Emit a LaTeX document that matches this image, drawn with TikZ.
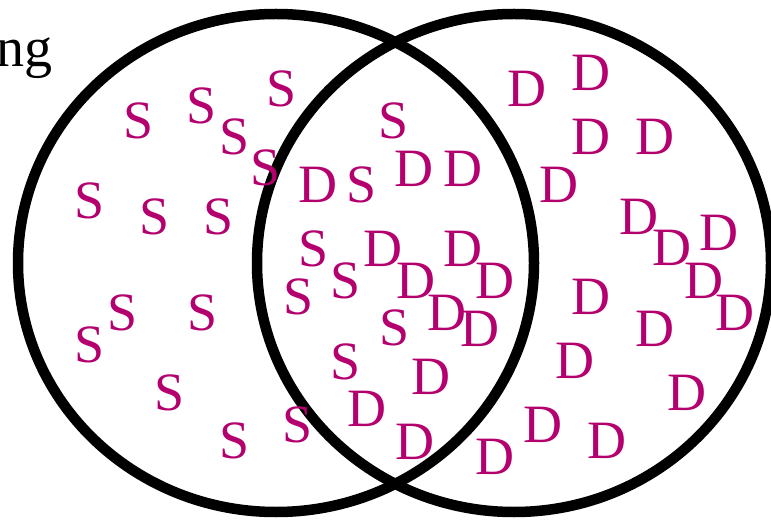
\documentclass[tikz,border=0pt]{standalone}
\usepackage{fontspec}
\setmainfont{Liberation Serif}
\definecolor{letmag}{RGB}{180,0,110}
\tikzset{
  setring/.style={draw=black, line width=10.5pt},
  sym/.style={text=letmag, inner sep=0pt, anchor=center, font=\fontsize{54}{54}\selectfont},
  lbl/.style={text=black, inner sep=0pt, font=\fontsize{56}{56}\selectfont}
}
\begin{document}
\begin{tikzpicture}[x=1pt,y=-1pt]
\useasboundingbox (0,0) rectangle (771,521);
\clip (0,0) rectangle (771,521);
% sets
\draw[setring] (276,263) ellipse [x radius=258, y radius=249];
\draw[setring] (514,263) ellipse [x radius=257, y radius=249];
% partial label
\node[lbl, anchor=base east] (lab) at (53,67) {ng};
% S letters
\foreach \x/\y [count=\i] in {139/121,202/106,235/137,282/89,266/168,90/201,155/217,219/217,
  362/185,394/121,314/249,346/281,299/297,395/328,346/362,298/425,123/313,90/345,203/313,170/393,235/441}
  \node[sym] (s\i) at (\x,\y) {S};
% D letters
\foreach \x/\y [count=\i] in {318/185,527/89,591/73,591/137,655/137,414/169,463/169,559/185,639/217,
  672/248,719/233,383/249,463/249,416/281,495/281,447/313,480/329,431/377,367/409,415/442,
  495/457,543/425,607/441,575/361,591/297,655/329,687/393,704/281,735/313}
  \node[sym] (d\i) at (\x,\y) {D};
\end{tikzpicture}
\end{document}
